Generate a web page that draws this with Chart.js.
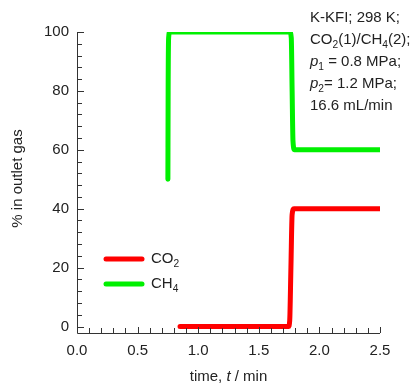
<!DOCTYPE html>
<html>
<head>
<meta charset="utf-8">
<script src="https://cdn.jsdelivr.net/npm/chart.js@4"></script>
<style>
  body { margin: 0; background: #fff; }
  #wrap { width: 418px; height: 384px; }
</style>
</head>
<body>
<div id="wrap"><canvas id="chart" width="418" height="384"></canvas></div>
<script>
// breakthrough curves, time in min / percent in outlet gas
const ch4Time = [0.75, 0.752, 0.756, 0.765, 1.0, 1.5, 1.755, 1.768, 1.775, 1.782, 1.795, 2.0, 2.5];
const ch4Pct = [50, 80, 98, 100, 100, 100, 100, 98, 80, 63, 60, 60, 60];
const co2Time = [0.85, 1.0, 1.5, 1.745, 1.755, 1.765, 1.775, 1.79, 2.0, 2.5];
const co2Pct = [0, 0, 0, 0, 2, 20, 38, 40, 40, 40];

const xTicks = [0, 0.5, 1.0, 1.5, 2.0, 2.5];
const yTicks = [0, 20, 40, 60, 80, 100];

const FONT = "Liberation Sans, Arial, sans-serif";
const INK = "#222";
const RED = "#ff0000";
const GREEN = "#00f000";

// width of a run of text pieces
function richWidth(ctx, parts, size) {
  let w = 0;
  parts.forEach(p => {
    const sz = p.sub ? size * 0.68 : size;
    ctx.font = (p.it ? "italic " : "") + sz + "px " + FONT;
    w += ctx.measureText(p.t).width;
  });
  return w;
}

// draw a run of text pieces, some subscripted or italic
function drawRich(ctx, parts, x, y, size) {
  ctx.textBaseline = "middle";
  ctx.textAlign = "left";
  let cx = x;
  parts.forEach(p => {
    const sz = p.sub ? size * 0.68 : size;
    ctx.font = (p.it ? "italic " : "") + sz + "px " + FONT;
    ctx.fillText(p.t, cx, p.sub ? y + size * 0.32 : y);
    cx += ctx.measureText(p.t).width;
  });
}

const decor = {
  id: "decor",
  afterDraw(c) {
    const ctx = c.ctx;
    const xs = c.scales.x, ys = c.scales.y;
    const a = c.chartArea;
    ctx.save();
    ctx.strokeStyle = "#333";
    ctx.lineWidth = 1;

    // axis lines
    ctx.beginPath();
    ctx.moveTo(a.left + 0.5, ys.getPixelForValue(100));
    ctx.lineTo(a.left + 0.5, a.bottom + 0.5);
    ctx.lineTo(xs.getPixelForValue(2.5), a.bottom + 0.5);
    ctx.stroke();

    // inward ticks: x every 0.1, y every 4
    ctx.beginPath();
    for (let i = 0; i <= 25; i++) {
      const px = Math.round(xs.getPixelForValue(i / 10)) + 0.5;
      const len = i % 5 === 0 ? 6 : 5;
      ctx.moveTo(px, a.bottom);
      ctx.lineTo(px, a.bottom - len);
    }
    for (let v = 0; v <= 100; v += 4) {
      const py = Math.round(ys.getPixelForValue(v)) + 0.5;
      const len = v % 20 === 0 ? 7 : 5;
      ctx.moveTo(a.left, py);
      ctx.lineTo(a.left + len, py);
    }
    ctx.stroke();

    // axis titles
    ctx.fillStyle = INK;
    const xTitle = [{t: "time, "}, {t: "t", it: true}, {t: " / min"}];
    const w = richWidth(ctx, xTitle, 15);
    drawRich(ctx, xTitle, (a.left + a.right) / 2 - w / 2, 377, 15);

    ctx.save();
    ctx.translate(18, (a.top + a.bottom) / 2 - 4);
    ctx.rotate(-Math.PI / 2);
    ctx.font = "15px " + FONT;
    ctx.textAlign = "center";
    ctx.textBaseline = "middle";
    ctx.fillText("% in outlet gas", 0, 0);
    ctx.restore();

    // legend
    ctx.lineCap = "round";
    ctx.lineWidth = 5;
    const legend = [
      {color: RED, parts: [{t: "CO"}, {t: "2", sub: true}], y: 259},
      {color: GREEN, parts: [{t: "CH"}, {t: "4", sub: true}], y: 284}
    ];
    legend.forEach(l => {
      ctx.strokeStyle = l.color;
      ctx.beginPath();
      ctx.moveTo(106, l.y);
      ctx.lineTo(142, l.y);
      ctx.stroke();
      ctx.fillStyle = INK;
      drawRich(ctx, l.parts, 151, l.y, 15);
    });

    // conditions note
    ctx.fillStyle = INK;
    const note = [
      [{t: "K-KFI; 298 K;"}],
      [{t: "CO"}, {t: "2", sub: true}, {t: "(1)/CH"}, {t: "4", sub: true}, {t: "(2);"}],
      [{t: "p", it: true}, {t: "1", sub: true}, {t: " = 0.8 MPa;"}],
      [{t: "p", it: true}, {t: "2", sub: true}, {t: "= 1.2 MPa;"}],
      [{t: "16.6 mL/min"}]
    ];
    note.forEach((line, i) => drawRich(ctx, line, 310, 18 + i * 22, 15));
    ctx.restore();
  }
};

new Chart(document.getElementById("chart"), {
  type: "line",
  data: {
    datasets: [
      {
        label: "CO2",
        data: co2Time.map((t, i) => ({x: t, y: co2Pct[i]})),
        borderColor: RED
      },
      {
        label: "CH4",
        data: ch4Time.map((t, i) => ({x: t, y: ch4Pct[i]})),
        borderColor: GREEN
      }
    ]
  },
  options: {
    responsive: false,
    animation: false,
    layout: { padding: { top: 32, right: 38, left: 0, bottom: 0 } },
    elements: {
      line: { borderWidth: 5, borderCapStyle: "round", borderJoinStyle: "round", cubicInterpolationMode: "monotone" },
      point: { radius: 0 }
    },
    plugins: { legend: { display: false }, tooltip: { enabled: false } },
    scales: {
      x: {
        type: "linear",
        min: 0,
        max: 2.5,
        grid: { display: false, drawTicks: false },
        border: { display: false },
        afterBuildTicks: s => { s.ticks = xTicks.map(v => ({value: v})); },
        afterFit: s => { s.height = 51; },
        ticks: { padding: 9, color: INK, font: { family: FONT, size: 15 }, callback: v => v.toFixed(1), maxRotation: 0 }
      },
      y: {
        min: -2.2,
        max: 100,
        grid: { display: false, drawTicks: false },
        border: { display: false },
        afterBuildTicks: s => { s.ticks = yTicks.map(v => ({value: v})); },
        afterFit: s => { s.width = 77; },
        ticks: { padding: 8, color: INK, font: { family: FONT, size: 15 } }
      }
    }
  },
  plugins: [decor]
});
</script>
</body>
</html>
